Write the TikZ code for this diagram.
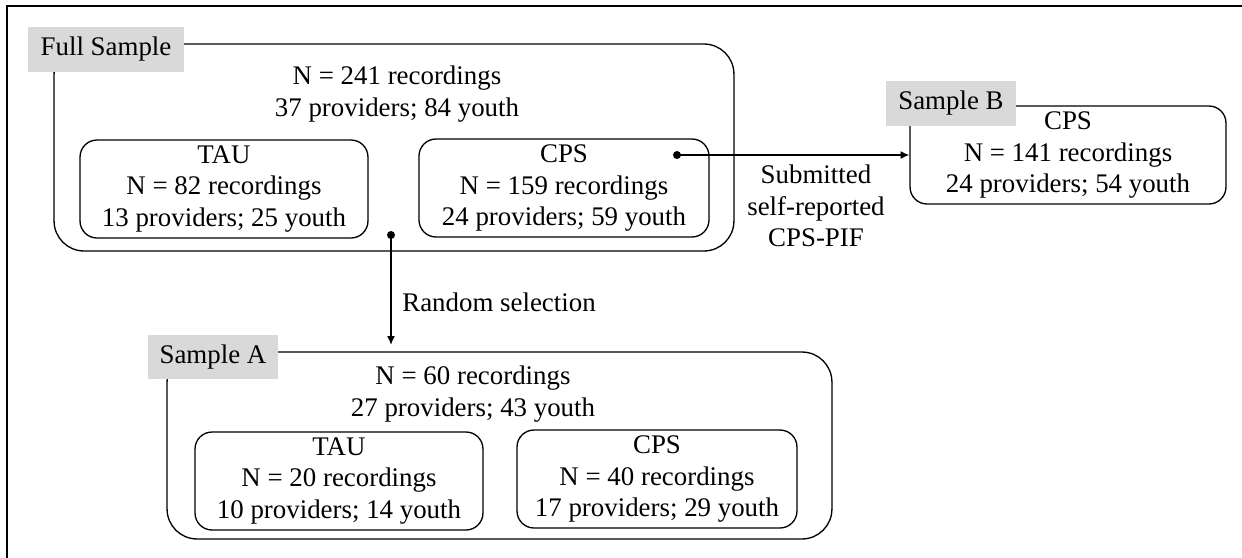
\documentclass[tikz,border=0pt]{standalone}
\usepackage{fontspec}
\setmainfont{Liberation Serif}
\usetikzlibrary{arrows.meta}

\tikzset{
  tag/.style={fill=gray!30, minimum height=0.9cm, inner sep=0pt},
  group/.style={draw, line width=0.75pt, rounded corners=0.6cm, inner sep=0pt},
  arm/.style={draw, line width=0.75pt, rounded corners=0.34cm, align=center, inner sep=0pt,
              minimum height=1.96cm},
  info/.style={align=center, inner sep=0pt},
  link/.style={line width=0.75pt, ->, >={Latex[length=5pt,width=4.5pt]}}
}

\begin{document}
\begin{tikzpicture}[x=0.02cm, y=-0.02cm, font=\fontsize{15.3}{18}\selectfont]
  \useasboundingbox (0,0) rectangle (1242,558);

  % Cadre
  \draw[line width=1.4pt] (7,558) -- (7,6) -- (1242,6);

  % Full sample
  \node[group, minimum width=13.6cm, minimum height=4.14cm] (full) at (394,147.5) {};
  \node[info] (fulltxt) at (397,94) {N = 241 recordings\\37 providers; 84 youth};
  \node[arm, minimum width=5.76cm] (tauF) at (224,189) {TAU\\N = 82 recordings\\13 providers; 25 youth};
  \node[arm, minimum width=5.8cm] (cpsF) at (564,188) {CPS\\N = 159 recordings\\24 providers; 59 youth};
  \node[tag, minimum width=3.12cm] (fulltag) at (106,49.5) {Full Sample};

  % Sample B
  \node[arm, minimum width=6.32cm] (sB) at (1068,155) {CPS\\N = 141 recordings\\24 providers; 54 youth};
  \node[tag, minimum width=2.6cm] (sBtag) at (951,103.5) {Sample B};

  % Sample A
  \node[group, minimum width=13.3cm, minimum height=3.74cm] (sA) at (499.5,445.5) {};
  \node[info] (sAtxt) at (473,394) {N = 60 recordings\\27 providers; 43 youth};
  \node[arm, minimum width=5.76cm] (tauA) at (339,481) {TAU\\N = 20 recordings\\10 providers; 14 youth};
  \node[arm, minimum width=5.6cm] (cpsA) at (657,479) {CPS\\N = 40 recordings\\17 providers; 29 youth};
  \node[tag, minimum width=2.6cm] (sAtag) at (213,357) {Sample A};

  % Fleches
  \coordinate (cpsdot) at (677,155);
  \coordinate (seldot) at (391,235);
  \fill (cpsdot) circle (4);
  \fill (seldot) circle (4);
  \draw[link] (cpsdot) -- (sB.west);
  \draw[link, shorten >=0.13cm] (seldot) -- (seldot |- sA.north);

  \node[info, anchor=west] (randlbl) at (402,302) {Random selection};
  \node[info] (sublbl) at (816,206) {Submitted\\self-reported\\CPS-PIF};
\end{tikzpicture}
\end{document}
